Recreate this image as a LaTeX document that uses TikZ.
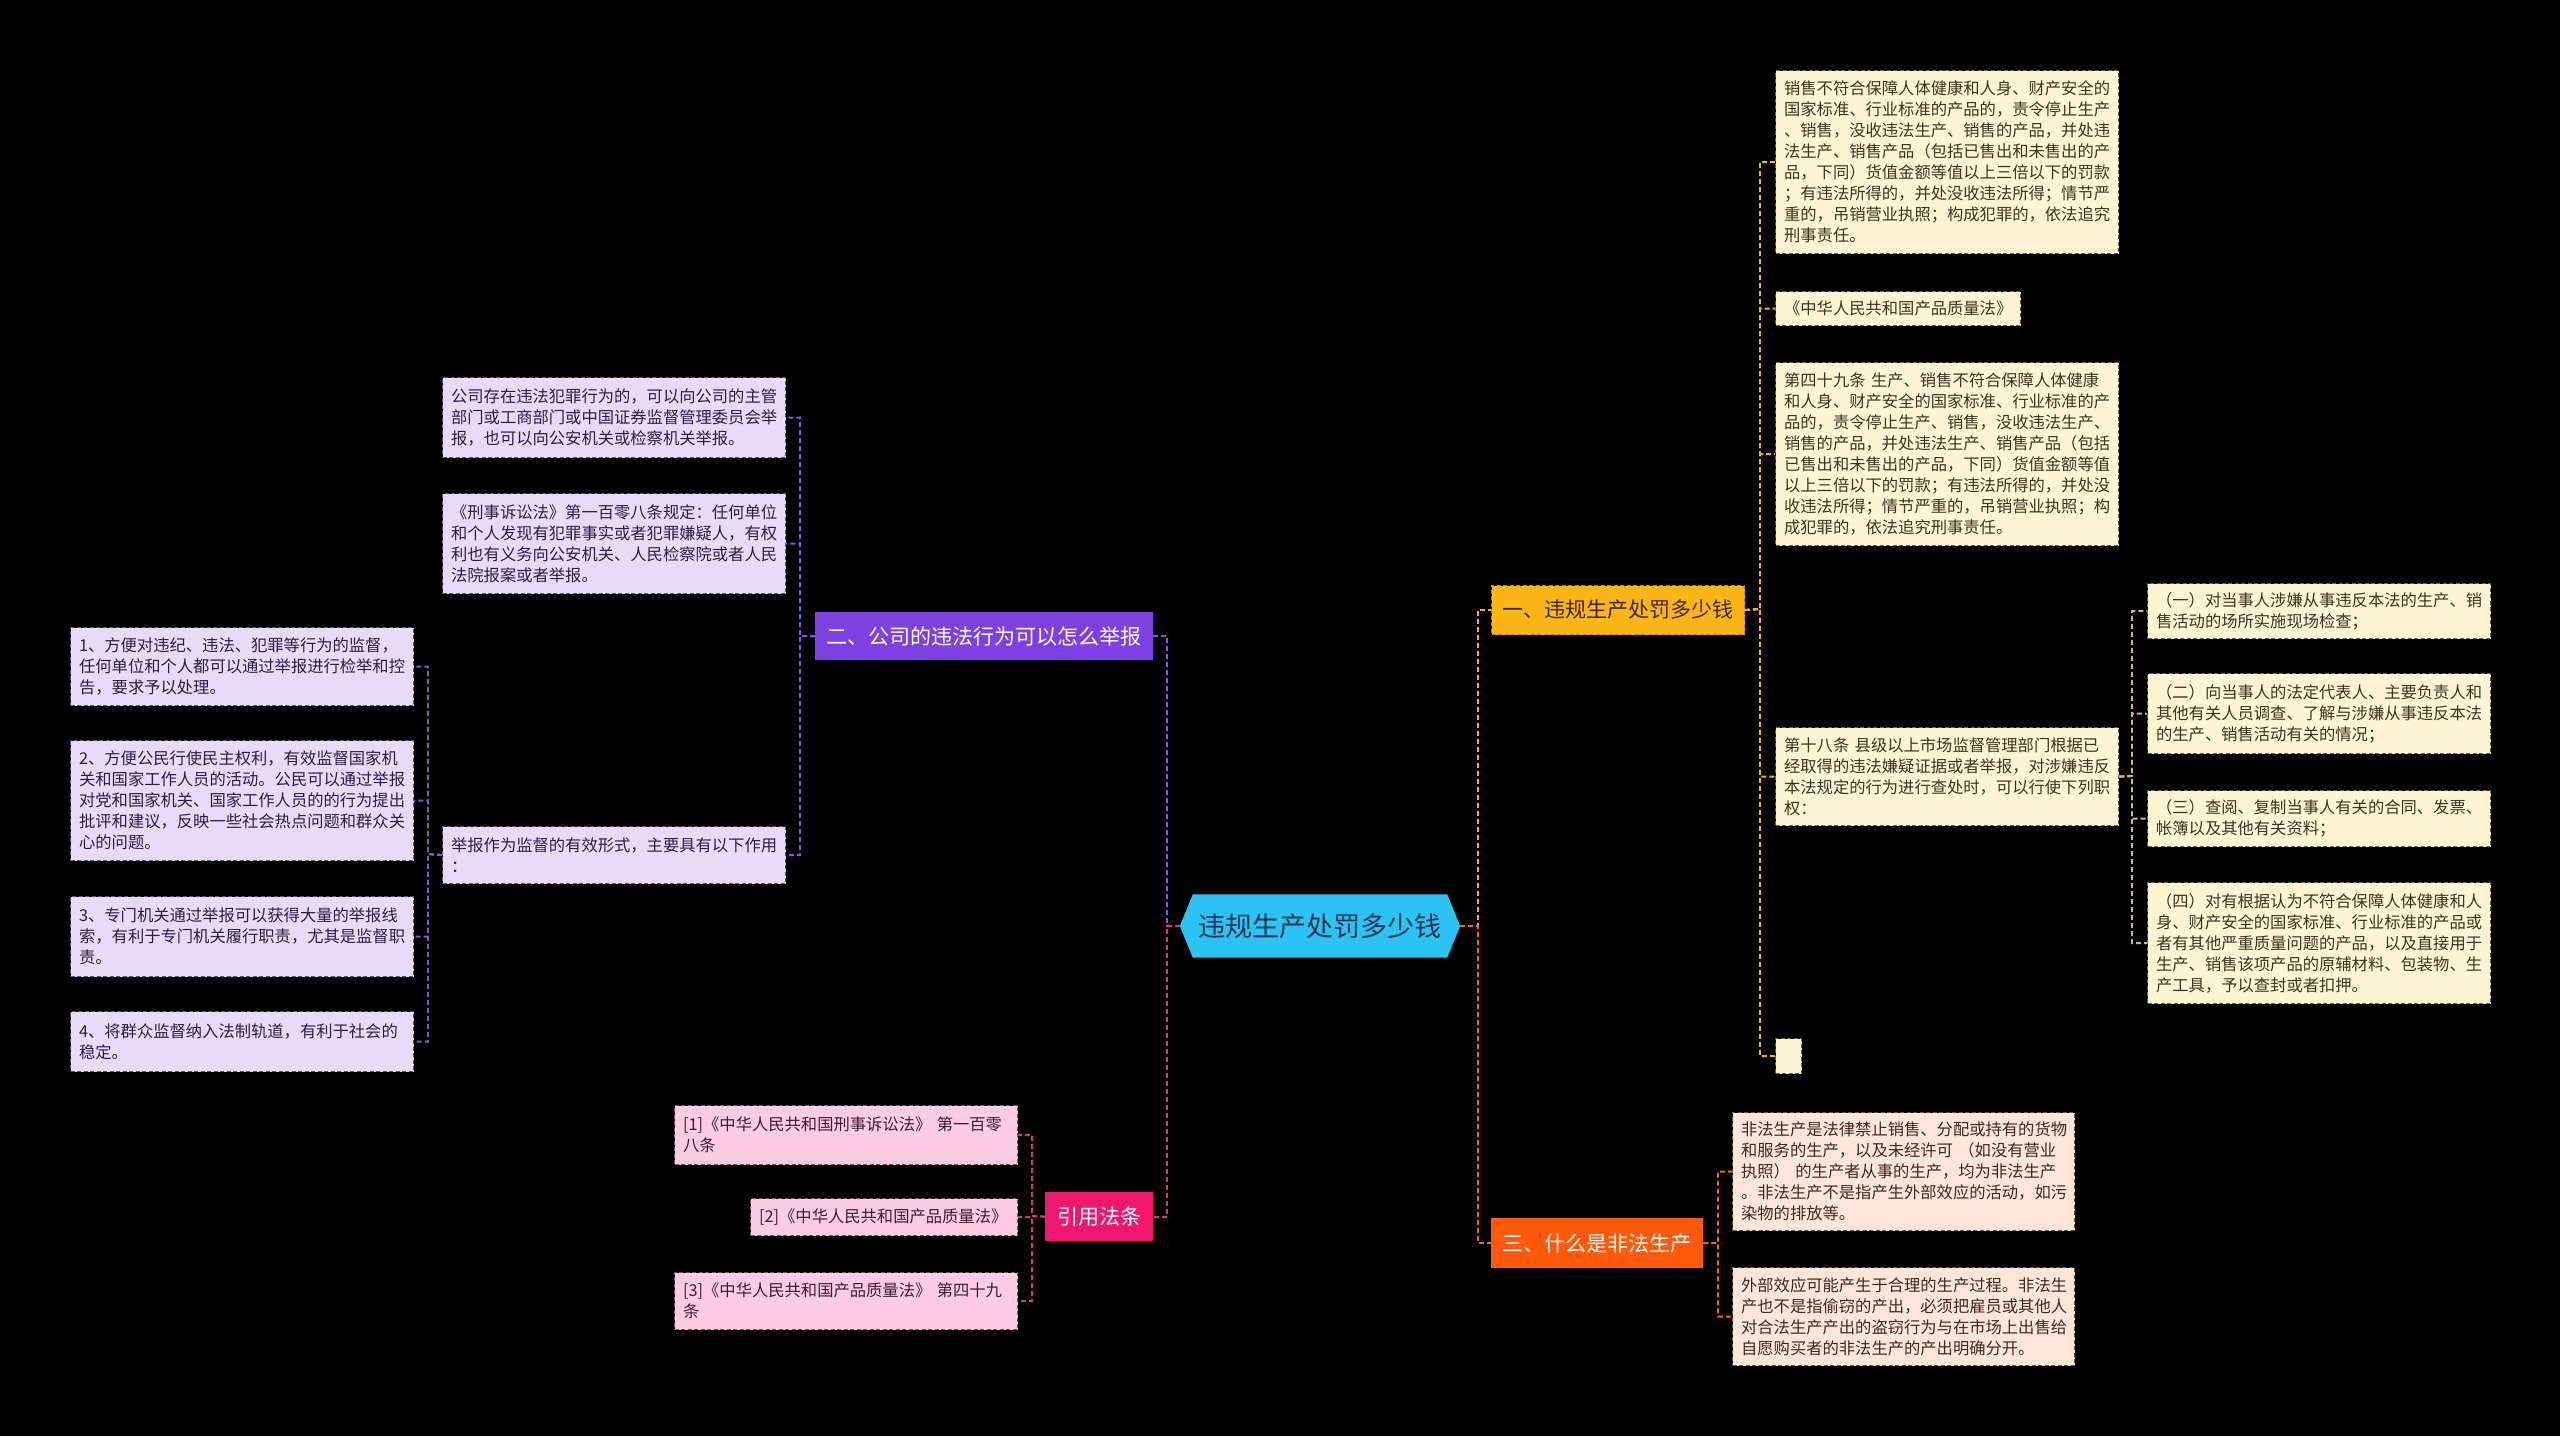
\documentclass[tikz,border=0pt]{standalone}
\usepackage{fontspec}
\setmainfont{Noto Sans CJK SC}
\usetikzlibrary{backgrounds}
\definecolor{rootF}{HTML}{2CC3F4}
\definecolor{rootT}{HTML}{1B3550}
\definecolor{yelF}{HTML}{FBB517}
\definecolor{yelD}{HTML}{C08A00}
\definecolor{yelT}{HTML}{3A2600}
\definecolor{oraF}{HTML}{FF5A0A}
\definecolor{purF}{HTML}{7D40E2}
\definecolor{pnkF}{HTML}{F0176F}
\definecolor{creamF}{HTML}{FDF4D3}
\definecolor{creamD}{HTML}{6E6148}
\definecolor{creamT}{HTML}{3D3322}
\definecolor{peachF}{HTML}{FDE5D8}
\definecolor{peachD}{HTML}{6E5048}
\definecolor{peachT}{HTML}{3D2A22}
\definecolor{lavF}{HTML}{E7DBF8}
\definecolor{lavD}{HTML}{5E4F80}
\definecolor{lavT}{HTML}{2B1F4A}
\definecolor{pinkF}{HTML}{FDCCE3}
\definecolor{pinkD}{HTML}{7A4F62}
\definecolor{pinkT}{HTML}{3D1F2C}
\definecolor{cYel}{HTML}{F6B21E}
\definecolor{cCream}{HTML}{D9B57A}
\definecolor{cOra}{HTML}{F0672A}
\definecolor{cPur}{HTML}{8A52EE}
\definecolor{cLav}{HTML}{7A5CC4}
\definecolor{cPnk}{HTML}{E3307A}
\begin{document}
\begin{tikzpicture}[x=1pt,y=-1pt,
  leaf/.style={anchor=north west, inner xsep=8.5pt, inner ysep=5pt, align=left,
    font=\fontsize{16.3pt}{21pt}\selectfont, dash pattern=on 4pt off 2.5pt, line width=1.2pt},
  cbox/.style={leaf, fill=creamF, draw=creamD, text=creamT},
  pbox/.style={leaf, fill=peachF, draw=peachD, text=peachT},
  lbox/.style={leaf, fill=lavF, draw=lavD, text=lavT},
  kbox/.style={leaf, fill=pinkF, draw=pinkD, text=pinkT},
  branch/.style={anchor=north west, inner sep=0pt, font=\fontsize{21pt}{25pt}\selectfont},
  conn/.style={line width=1.8pt, dash pattern=on 5pt off 3pt},
]
\begin{scope}[on background layer]
\fill[black] (0,0) rectangle (2560,1436);
\end{scope}
\useasboundingbox (0,0) rectangle (2560,1436);

% root
\node[font=\fontsize{27pt}{30pt}\selectfont, text=rootT, minimum width=280pt, minimum height=63pt, inner sep=0pt] (root) at (1320,926) {违规生产处罚多少钱};
\begin{scope}[on background layer]
\fill[rootF] (root.west) -- ([xshift=13pt]root.north west) -- ([xshift=-13pt]root.north east) -- (root.east) -- ([xshift=-13pt]root.south east) -- ([xshift=13pt]root.south west) -- cycle;
\end{scope}

% branches
\node[branch, fill=yelF, draw=yelD, dash pattern=on 4pt off 2.5pt, line width=1pt, text=yelT, minimum width=253pt, minimum height=49pt] (b1) at (1491,585) {一、违规生产处罚多少钱};
\node[branch, fill=oraF, text=white, minimum width=212pt, minimum height=50pt] (b3) at (1491,1218) {三、什么是非法生产};
\node[branch, fill=purF, text=white, minimum width=338pt, minimum height=48pt] (b2) at (815,612) {二、公司的违法行为可以怎么举报};
\node[branch, fill=pnkF, text=white, minimum width=108pt, minimum height=49pt] (b4) at (1045,1192) {引用法条};

% branch 1 leaves
\node[cbox, text width=326pt, minimum height=183pt] (A) at (1775,70) {销售不符合保障人体健康和人身、财产安全的\\国家标准、行业标准的产品的，责令停止生产\\、销售，没收违法生产、销售的产品，并处违\\法生产、销售产品（包括已售出和未售出的产\\品，下同）货值金额等值以上三倍以下的罚款\\；有违法所得的，并处没收违法所得；情节严\\重的，吊销营业执照；构成犯罪的，依法追究\\刑事责任。};
\node[cbox, text width=228pt, minimum height=34pt] (B) at (1775,291) {《中华人民共和国产品质量法》};
\node[cbox, text width=326pt, minimum height=183pt] (C) at (1775,362) {第四十九条 生产、销售不符合保障人体健康\\和人身、财产安全的国家标准、行业标准的产\\品的，责令停止生产、销售，没收违法生产、\\销售的产品，并处违法生产、销售产品（包括\\已售出和未售出的产品，下同）货值金额等值\\以上三倍以下的罚款；有违法所得的，并处没\\收违法所得；情节严重的，吊销营业执照；构\\成犯罪的，依法追究刑事责任。};
\node[cbox, text width=326pt, minimum height=98pt] (D) at (1775,727) {第十八条 县级以上市场监督管理部门根据已\\经取得的违法嫌疑证据或者举报，对涉嫌违反\\本法规定的行为进行查处时，可以行使下列职\\权：};
\node[cbox, inner sep=0pt, minimum width=26pt, minimum height=35pt] (E) at (1775,1038) {};

\node[cbox, text width=326pt, minimum height=55pt] (D1) at (2147,583) {（一）对当事人涉嫌从事违反本法的生产、销\\售活动的场所实施现场检查；};
\node[cbox, text width=326pt, minimum height=80pt] (D2) at (2147,673) {（二）向当事人的法定代表人、主要负责人和\\其他有关人员调查、了解与涉嫌从事违反本法\\的生产、销售活动有关的情况；};
\node[cbox, text width=326pt, minimum height=56pt] (D3) at (2147,790) {（三）查阅、复制当事人有关的合同、发票、\\帐簿以及其他有关资料；};
\node[cbox, text width=326pt, minimum height=121pt] (D4) at (2147,882) {（四）对有根据认为不符合保障人体健康和人\\身、财产安全的国家标准、行业标准的产品或\\者有其他严重质量问题的产品，以及直接用于\\生产、销售该项产品的原辅材料、包装物、生\\产工具，予以查封或者扣押。};

% branch 3 leaves
\node[pbox, text width=325pt, minimum height=118pt] (F) at (1732,1112) {非法生产是法律禁止销售、分配或持有的货物\\和服务的生产，以及未经许可 （如没有营业\\执照） 的生产者从事的生产，均为非法生产\\。非法生产不是指产生外部效应的活动，如污\\染物的排放等。};
\node[pbox, text width=325pt, minimum height=98pt] (G) at (1732,1267) {外部效应可能产生于合理的生产过程。非法生\\产也不是指偷窃的产出，必须把雇员或其他人\\对合法生产产出的盗窃行为与在市场上出售给\\自愿购买者的非法生产的产出明确分开。};

% branch 2 leaves
\node[lbox, text width=326pt, minimum height=80pt] (H) at (442,377) {公司存在违法犯罪行为的，可以向公司的主管\\部门或工商部门或中国证券监督管理委员会举\\报，也可以向公安机关或检察机关举报。};
\node[lbox, text width=326pt, minimum height=100pt] (I) at (442,493) {《刑事诉讼法》第一百零八条规定：任何单位\\和个人发现有犯罪事实或者犯罪嫌疑人，有权\\利也有义务向公安机关、人民检察院或者人民\\法院报案或者举报。};
\node[lbox, text width=326pt, minimum height=57pt] (J) at (442,826) {举报作为监督的有效形式，主要具有以下作用\\：};
\node[lbox, text width=326pt, minimum height=78pt] (J1) at (70,627) {1、方便对违纪、违法、犯罪等行为的监督，\\任何单位和个人都可以通过举报进行检举和控\\告，要求予以处理。};
\node[lbox, text width=326pt, minimum height=120pt] (J2) at (70,740) {2、方便公民行使民主权利，有效监督国家机\\关和国家工作人员的活动。公民可以通过举报\\对党和国家机关、国家工作人员的的行为提出\\批评和建议，反映一些社会热点问题和群众关\\心的问题。};
\node[lbox, text width=326pt, minimum height=80pt] (J3) at (70,896) {3、专门机关通过举报可以获得大量的举报线\\索，有利于专门机关履行职责，尤其是监督职\\责。};
\node[lbox, text width=326pt, minimum height=60pt] (J4) at (70,1011) {4、将群众监督纳入法制轨道，有利于社会的\\稳定。};

% branch 4 leaves
\node[kbox, text width=326pt, minimum height=59pt] (R1) at (674,1105) {[1]《中华人民共和国刑事诉讼法》 第一百零\\八条};
\node[kbox, text width=250pt, minimum height=37pt] (R2) at (750,1198) {[2]《中华人民共和国产品质量法》};
\node[kbox, text width=326pt, minimum height=57pt] (R3) at (674,1272) {[3]《中华人民共和国产品质量法》 第四十九\\条};

% bus coordinates
\coordinate (busR) at (1478,926);
\coordinate (busL) at (1167,926);
\coordinate (bus1) at (1760,609);
\coordinate (busD) at (2132,776);
\coordinate (bus3) at (1718,1243);
\coordinate (bus2) at (800,636);
\coordinate (busJ) at (428,854);
\coordinate (bus4) at (1032,1216);

% connectors
\draw[conn, cYel] (root.east) -- (busR) |- (b1.west);
\draw[conn, cOra] (root.east) -- (busR) |- (b3.west);
\draw[conn, cPur] (root.west) -- (busL) |- (b2.east);
\draw[conn, cPnk] (root.west) -- (busL) |- (b4.east);

\foreach \n in {A,B,C,D,E} \draw[conn, cYel] (b1.east) -- (bus1) |- (\n.west);
\foreach \n in {D1,D2,D3,D4} \draw[conn, cCream] (D.east) -- (busD) |- (\n.west);
\foreach \n in {F,G} \draw[conn, cOra] (b3.east) -- (bus3) |- (\n.west);
\foreach \n in {H,I,J} \draw[conn, cPur] (b2.west) -- (bus2) |- (\n.east);
\foreach \n in {J1,J2,J3,J4} \draw[conn, cLav] (J.west) -- (busJ) |- (\n.east);
\foreach \n in {R1,R2,R3} \draw[conn, cPnk] (b4.west) -- (bus4) |- (\n.east);
\end{tikzpicture}
\end{document}
